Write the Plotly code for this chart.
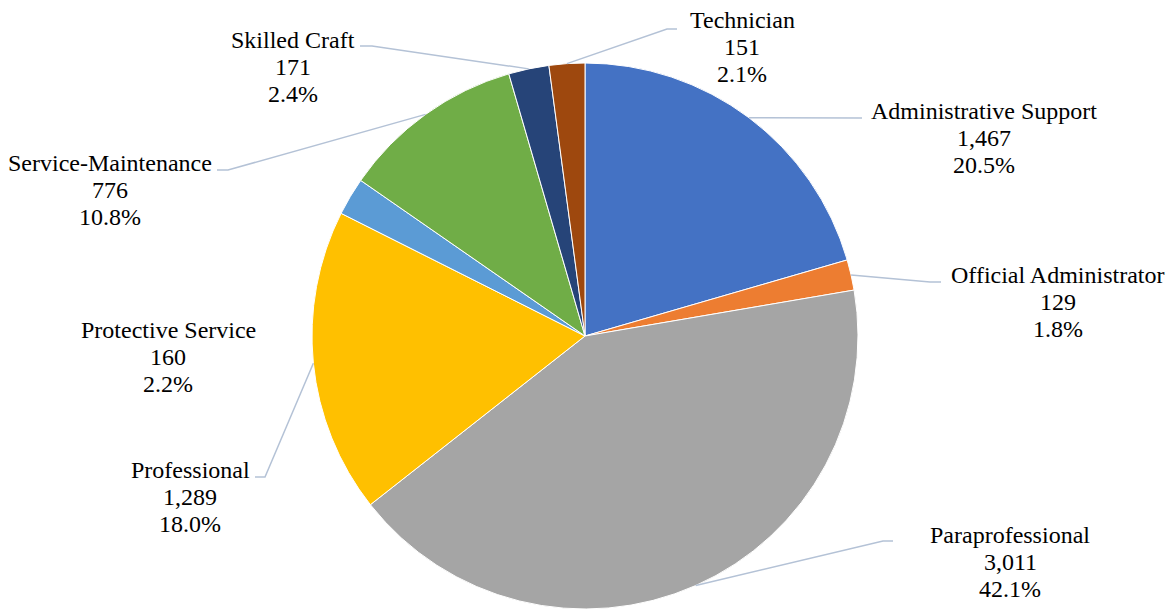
import math
import plotly.graph_objects as go

# Workforce headcount by job category
categories = [
    "Administrative Support",
    "Official Administrator",
    "Paraprofessional",
    "Professional",
    "Protective Service",
    "Service-Maintenance",
    "Skilled Craft",
    "Technician",
]
headcount = [1467, 129, 3011, 1289, 160, 776, 171, 151]
slice_colors = ["#4472C4", "#ED7D31", "#A5A5A5", "#FFC000",
                "#5B9BD5", "#70AD47", "#264478", "#9E480E"]

W, H = 1171, 610
CX, CY, R = 585, 336, 273          # pie centre and radius in pixels
LINE_GAP = 27                      # spacing between label lines
FONT = "Liberation Serif"
LEADER = "#B4C2D6"

# label placement per category: text centre x, first-line y,
# leader elbow (x, y) and leader end x; None = no leader line
label_pos = {
    "Administrative Support": (984, 111, (862, 118), 862),
    "Official Administrator": (1058, 275, (930, 282), 941),
    "Paraprofessional": (1010, 535, (883, 541), 893),
    "Professional": (190, 470, (265, 477), 255),
    "Protective Service": (168, 330, None, None),
    "Service-Maintenance": (110, 163, (228, 170), 217),
    "Skilled Craft": (293, 40, (372, 46), 360),
    "Technician": (742, 20, (667, 29), 677),
}


def px(x):
    return x / W


def py(y):
    return 1 - y / H


total = sum(headcount)

fig = go.Figure(
    go.Pie(
        labels=categories,
        values=headcount,
        sort=False,
        direction="clockwise",
        rotation=0,
        marker=dict(colors=slice_colors, line=dict(color="white", width=1)),
        textinfo="none",
        hoverinfo="label+value+percent",
        showlegend=False,
        domain=dict(x=[px(CX - R), px(CX + R)], y=[py(CY + R), py(CY - R)]),
    )
)

annotations = []
shapes = []
cum = 0
for name, val in zip(categories, headcount):
    mid = (cum + val / 2) / total * 2 * math.pi
    cum += val
    ax = CX + R * math.sin(mid)
    ay = CY - R * math.cos(mid)
    tx, ty, elbow, endx = label_pos[name]
    lines = [name, f"{val:,}", f"{val / total * 100:.1f}%"]
    for i, t in enumerate(lines):
        annotations.append(dict(
            x=px(tx), y=py(ty + i * LINE_GAP), xref="paper", yref="paper",
            text=t, showarrow=False, xanchor="center", yanchor="middle",
            font=dict(family=FONT, size=24, color="#000000"),
        ))
    if elbow is not None:
        ex, ey = elbow
        path = (f"M {px(ax)} {py(ay)} L {px(ex)} {py(ey)} "
                f"L {px(endx)} {py(ey)}")
        shapes.append(dict(type="path", xref="paper", yref="paper",
                           path=path, line=dict(color=LEADER, width=1.5)))

fig.update_layout(
    width=W, height=H,
    margin=dict(l=0, r=0, t=0, b=0),
    paper_bgcolor="white",
    plot_bgcolor="white",
    font=dict(family=FONT),
    annotations=annotations,
    shapes=shapes,
)

fig.write_html("out.html")
